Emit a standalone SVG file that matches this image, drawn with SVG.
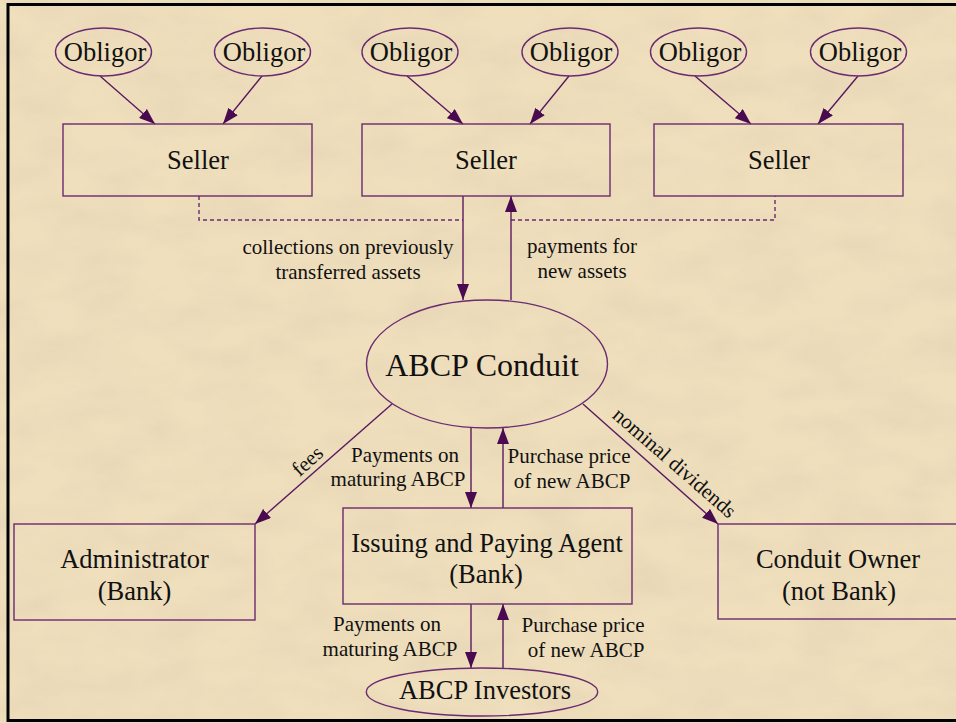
<svg xmlns="http://www.w3.org/2000/svg" width="956" height="723" viewBox="0 0 956 723">
<style>
.nd{fill:none;stroke:#6b2b70;stroke-width:1.4}
.e{stroke:#5a1a60;stroke-width:1.4;fill:none}
.d{stroke:#6b2b70;stroke-width:1.4;fill:none;stroke-dasharray:4 3}
text{font-family:"Liberation Serif","Times New Roman",serif;fill:#111;text-anchor:middle}
.n{font-size:26.5px}
.l{font-size:21px}
</style>
<defs>
<marker id="ah" markerUnits="userSpaceOnUse" markerWidth="16" markerHeight="12" viewBox="0 0 16 12" refX="16" refY="6" orient="auto">
<path d="M0,0 L16,6 L0,12 Z" fill="#4a0a50"/>
</marker>
<filter id="tex" x="0" y="0" width="100%" height="100%">
<feTurbulence type="fractalNoise" baseFrequency="0.015 0.03" numOctaves="4" seed="7"/>
<feColorMatrix type="matrix" values="0 0 0 0 0.62  0 0 0 0 0.52  0 0 0 0 0.36  0 0 0 0.7 -0.22"/>
</filter>
</defs>
<rect x="0" y="0" width="956" height="723" fill="#f0dfbd"/>
<rect x="0" y="0" width="956" height="723" filter="url(#tex)" opacity="0.55"/>
<path d="M970,4.5 H8 V720.5 H970" fill="none" stroke="#000" stroke-width="3"/>

<g id="connectors">
<line class="e" x1="100" y1="76" x2="155" y2="124" marker-end="url(#ah)"/>
<line class="e" x1="262" y1="76" x2="223" y2="124" marker-end="url(#ah)"/>
<line class="e" x1="407" y1="76" x2="463" y2="124" marker-end="url(#ah)"/>
<line class="e" x1="569" y1="76" x2="530" y2="124" marker-end="url(#ah)"/>
<line class="e" x1="695" y1="76" x2="751" y2="124" marker-end="url(#ah)"/>
<line class="e" x1="858" y1="76" x2="818" y2="124" marker-end="url(#ah)"/>
<path class="d" d="M199,196 V220 H463"/>
<path class="d" d="M511,220 H775 V196"/>
<line class="e" x1="463" y1="196" x2="463" y2="300" marker-end="url(#ah)"/>
<line class="e" x1="511" y1="300" x2="511" y2="196" marker-end="url(#ah)"/>
<line class="e" x1="392" y1="404" x2="255" y2="524" marker-end="url(#ah)"/>
<line class="e" x1="583" y1="404" x2="718" y2="524" marker-end="url(#ah)"/>
<line class="e" x1="471" y1="428" x2="471" y2="508" marker-end="url(#ah)"/>
<line class="e" x1="503" y1="508" x2="503" y2="428" marker-end="url(#ah)"/>
<line class="e" x1="471" y1="604" x2="471" y2="668" marker-end="url(#ah)"/>
<line class="e" x1="503" y1="669" x2="503" y2="604" marker-end="url(#ah)"/>
<text class="l" x="348" y="254">collections on previously</text>
<text class="l" x="348" y="279">transferred assets</text>
<text class="l" x="582" y="253">payments for</text>
<text class="l" x="582" y="278">new assets</text>
<text class="l" x="405" y="462">Payments on</text>
<text class="l" x="398" y="486">maturing ABCP</text>
<text class="l" x="569" y="463">Purchase price</text>
<text class="l" x="572" y="488">of new ABCP</text>
<text class="l" transform="translate(312,466) rotate(-42)">fees</text>
<text class="l" transform="translate(670,468) rotate(41)">nominal dividends</text>
<text class="l" x="387" y="631">Payments on</text>
<text class="l" x="390" y="656">maturing ABCP</text>
<text class="l" x="583" y="632">Purchase price</text>
<text class="l" x="586" y="657">of new ABCP</text>
</g>

<g id="obligor1"><ellipse class="nd" cx="103.5" cy="52" rx="48" ry="24"/><text class="n" x="105" y="61">Obligor</text></g>
<g id="obligor2"><ellipse class="nd" cx="262.5" cy="52" rx="48" ry="24"/><text class="n" x="264" y="61">Obligor</text></g>
<g id="obligor3"><ellipse class="nd" cx="410" cy="52" rx="48" ry="24"/><text class="n" x="411" y="61">Obligor</text></g>
<g id="obligor4"><ellipse class="nd" cx="570" cy="52" rx="48" ry="24"/><text class="n" x="571" y="61">Obligor</text></g>
<g id="obligor5"><ellipse class="nd" cx="698.5" cy="52" rx="48" ry="24"/><text class="n" x="700" y="61">Obligor</text></g>
<g id="obligor6"><ellipse class="nd" cx="858.5" cy="52" rx="48" ry="24"/><text class="n" x="860" y="61">Obligor</text></g>

<g id="seller1"><rect class="nd" x="63" y="124" width="249" height="72"/><text class="n" x="198" y="169">Seller</text></g>
<g id="seller2"><rect class="nd" x="362" y="124" width="248" height="72"/><text class="n" x="486" y="169">Seller</text></g>
<g id="seller3"><rect class="nd" x="654" y="124" width="249" height="72"/><text class="n" x="779" y="169">Seller</text></g>

<g id="conduit"><ellipse class="nd" cx="487" cy="364" rx="120.5" ry="64"/><text x="482" y="376" style="font-size:32px">ABCP Conduit</text></g>

<g id="administrator"><rect class="nd" x="14" y="524" width="241" height="96"/><text class="n" x="134.5" y="568">Administrator</text><text class="n" x="134.5" y="600">(Bank)</text></g>
<g id="ipa"><rect class="nd" x="343" y="508" width="289" height="96"/><text class="n" x="487" y="552">Issuing and Paying Agent</text><text class="n" x="486" y="583">(Bank)</text></g>
<g id="owner"><rect class="nd" x="718" y="524" width="260" height="95"/><text class="n" x="838" y="568">Conduit Owner</text><text class="n" x="839" y="600">(not Bank)</text></g>
<g id="investors"><ellipse class="nd" cx="482" cy="692" rx="115.7" ry="24"/><text class="n" x="485" y="699">ABCP Investors</text></g>
</svg>
